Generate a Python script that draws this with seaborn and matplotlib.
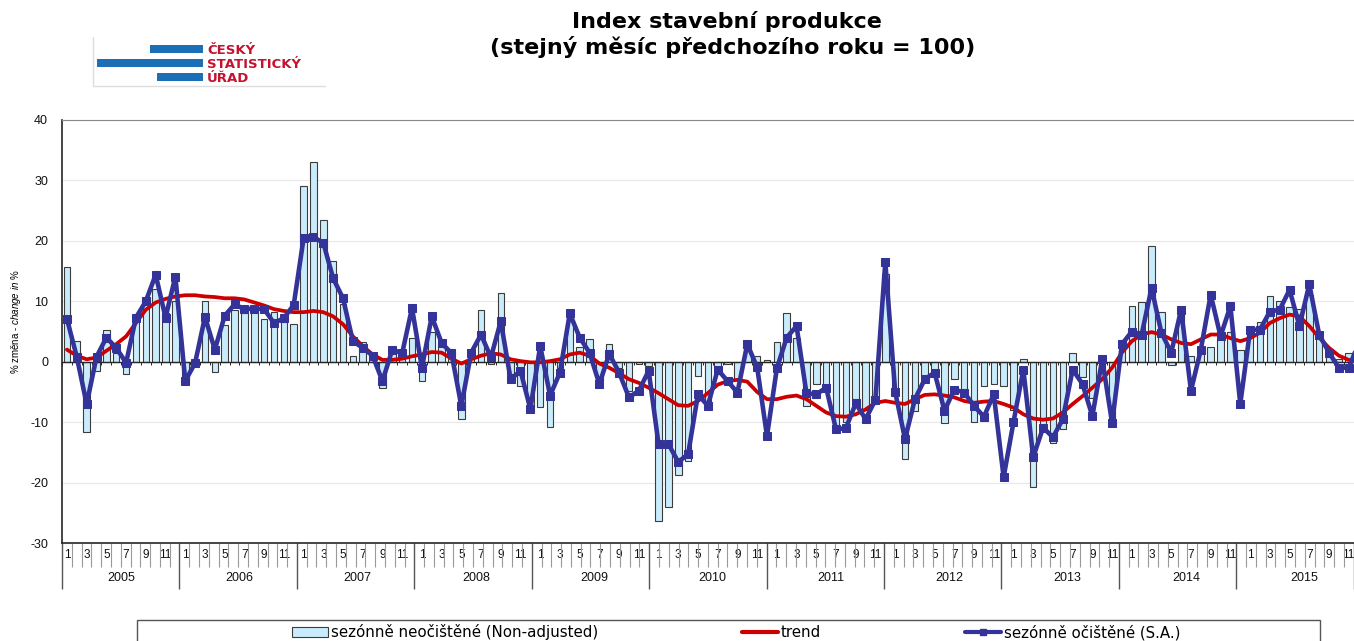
import matplotlib
matplotlib.use("Agg")
from matplotlib import pyplot as plt
from matplotlib.patches import Rectangle, Patch
from matplotlib.lines import Line2D
import pandas as pd
import seaborn as sns
import numpy as np

# data (% change, same month of previous year = 100), Jan 2005 - Dec 2015
years = list(range(2005, 2016))
month_labels = ["1", "", "3", "", "5", "", "7", "", "9", "", "11", ""]

non_adjusted = [
    15.6, 3.5, -11.7, -1.5, 5.3, 1.4, -2.1, 7.5, 10.2, 12.0, 8.0, 10.0,      # 2005
    -3.5, -0.4, 10.0, -1.7, 6.0, 8.5, 8.0, 8.3, 7.0, 8.2, 6.5, 6.3,          # 2006
    29.0, 33.1, 23.4, 16.7, 9.5, 0.9, 3.2, 0.9, -4.3, 2.0, 1.5, 4.0,         # 2007
    -3.2, 5.0, 3.1, 1.7, -9.4, 1.5, 8.6, -0.4, 11.4, -2.0, -4.0, -7.5,       # 2008
    -7.5, -10.8, -1.0, 7.0, 2.4, 3.7, -3.0, 2.9, -1.0, -4.8, -0.4, -0.7,     # 2009
    -26.4, -24.1, -18.8, -16.4, -2.4, -7.3, -1.0, -0.4, -3.0, 2.5, 0.9, 0.3,  # 2010
    3.3, 8.0, 4.0, -7.3, -3.7, -4.5, -11.7, -10.0, -6.2, -8.0, -6.0, 14.5,   # 2011
    -5.5, -16.1, -8.1, -2.5, -1.5, -10.1, -2.9, -4.5, -9.9, -4.0, -3.7, -4.0,  # 2012
    -8.0, 0.5, -20.8, -11.0, -13.4, -11.2, 1.5, -2.5, -6.0, -1.0, -10.2, 3.6,  # 2013
    9.3, 9.8, 19.1, 8.3, -0.5, 9.1, 1.0, 2.0, 2.5, 4.0, 5.0, 2.0,            # 2014
    5.0, 6.5, 10.9, 10.0, 9.0, 8.7, 11.0, 5.0, 2.0, 0.5, 1.4, 3.0,           # 2015
]

seasonally_adjusted = [
    7.1, 0.8, -7.0, 0.8, 4.0, 2.3, -0.2, 7.3, 10.0, 14.4, 7.3, 14.1,
    -3.2, -0.2, 7.4, 2.0, 7.6, 9.5, 8.7, 8.8, 8.7, 6.4, 7.2, 9.4,
    20.4, 20.6, 19.7, 13.8, 10.5, 3.4, 2.3, 1.0, -3.2, 2.0, 1.4, 8.9,
    -1.0, 7.5, 3.1, 1.4, -7.3, 1.5, 4.5, 0.7, 6.7, -2.9, -1.5, -7.8,
    2.6, -5.6, -1.8, 8.0, 4.0, 1.5, -3.7, 1.3, -1.8, -5.9, -4.8, -1.5,
    -13.6, -13.6, -16.6, -15.3, -5.4, -7.3, -1.3, -3.2, -5.1, 2.9, -0.9, -12.3,
    -1.1, 4.0, 5.9, -5.2, -5.4, -4.3, -11.2, -11.0, -6.9, -9.5, -6.3, 16.5,
    -5.0, -12.8, -6.2, -2.9, -1.8, -8.1, -4.6, -5.1, -7.3, -9.1, -5.4, -19.1,
    -10.0, -1.3, -15.8, -10.9, -12.5, -9.5, -1.3, -3.7, -9.0, 0.4, -10.1, 2.9,
    5.0, 4.5, 12.2, 4.8, 1.5, 8.6, -4.8, 2.0, 11.1, 4.2, 9.2, -7.0,
    5.3, 5.3, 8.3, 8.6, 11.9, 5.9, 12.8, 4.5, 1.5, -1.0, -1.0, 3.0,
]

trend = [
    2.0, 1.0, 0.4, 0.7, 1.8, 2.9, 4.2, 6.4, 8.6, 9.8, 10.4, 10.8,
    11.0, 11.0, 10.8, 10.7, 10.5, 10.5, 10.3, 9.8, 9.3, 8.7, 8.4, 8.2,
    8.2, 8.4, 8.2, 7.5, 6.2, 4.2, 2.6, 1.2, 0.3, 0.3, 0.5, 0.9,
    1.2, 1.6, 1.5, 0.5, -0.3, 0.4, 1.0, 1.4, 1.2, 0.4, 0.1, -0.1,
    -0.1, 0.1, 0.4, 1.2, 1.5, 1.0, -0.3, -1.0, -1.9, -2.9, -3.5, -4.3,
    -5.2, -6.2, -7.2, -7.3, -6.5, -5.2, -3.8, -3.2, -3.0, -3.3, -5.0, -6.2,
    -6.2, -5.8, -5.6, -6.2, -7.3, -8.4, -9.0, -9.1, -8.7, -7.9, -6.8, -6.5,
    -6.8, -7.0, -6.2, -5.5, -5.4, -5.6, -5.9, -6.5, -6.8, -6.6, -6.5, -7.0,
    -7.6, -8.7, -9.4, -9.6, -9.4, -8.4, -7.0, -5.7, -4.3, -2.9, -1.0, 1.5,
    3.4, 4.5, 4.9, 4.5, 3.7, 3.1, 2.9, 3.7, 4.5, 4.5, 3.9, 3.4,
    3.9, 4.8, 6.4, 7.2, 7.8, 7.5, 5.9, 4.0, 2.3, 1.0, 0.3, 0.0,
]

labels = ["sezónně neočištěné (Non-adjusted)", "trend",
          "sezónně očištěné (S.A.)"]

BAR_C = "#c9ecfc"
TREND_C = "#cc0000"
SA_C = "#333399"

df = pd.DataFrame({"idx": range(len(non_adjusted)),
                   "na": non_adjusted,
                   "sa": seasonally_adjusted,
                   "trend": trend})

sns.set_style("white")
plt.rcParams["font.family"] = ["Liberation Sans", "DejaVu Sans"]
plt.rcParams["text.color"] = "black"
plt.rcParams["axes.unicode_minus"] = False
plt.rcParams["mathtext.fontset"] = "custom"
plt.rcParams["mathtext.rm"] = "Liberation Sans"
plt.rcParams["mathtext.it"] = "Liberation Sans:italic"
WIDE = ["DejaVu Sans"]

W, H = 1354, 641
fig = plt.figure(figsize=(W / 100, H / 100), dpi=100)
n = len(non_adjusted)
ax = fig.add_axes([62 / W, 98 / H, n * 9.86 / W, 423 / H])

sns.barplot(data=df, x="idx", y="na", color=BAR_C, saturation=1, width=0.66,
            edgecolor="#3c3c3c", linewidth=0.8, ax=ax, zorder=2)
sns.lineplot(data=df, x="idx", y="trend", color=TREND_C, linewidth=2.7,
             ax=ax, zorder=3)
sns.lineplot(data=df, x="idx", y="sa", color=SA_C, linewidth=3.3, marker="s",
             markersize=5.5, markeredgecolor=SA_C, ax=ax, zorder=4)

ax.set_xlim(-0.5, n - 0.5)
ax.set_ylim(-30, 40)
ax.set_yticks(range(-30, 41, 10))
ax.set_xlabel("")
ax.set_ylabel("")
ax.yaxis.grid(True, color="#e8e8e8", linewidth=0.8)
ax.set_axisbelow(True)
ax.tick_params(axis="y", length=4, width=0.8, direction="out", color="black",
               labelsize=9, labelcolor="#111111", pad=6)

# horizontal axis crossing at zero with small month ticks
ax.spines["bottom"].set_position(("data", 0))
ax.spines["bottom"].set_linewidth(1)
ax.set_xticks([])
ax.set_xticks(np.arange(-0.5, n, 1), minor=True)
ax.tick_params(axis="x", which="minor", length=2.5, width=0.6,
               direction="out", color="black", labelbottom=False)
ax.spines["top"].set_color("#8a8a8a")
ax.spines["right"].set_visible(False)
ax.spines["left"].set_linewidth(1.2)

# category axis at the bottom (months / years)
ax2 = ax.twiny()
ax2.set_xlim(-0.5, n - 0.5)
ax2.xaxis.set_ticks_position("bottom")
ax2.set_xticks(np.arange(-0.5, n + 1, 12))
ax2.set_xticks(np.arange(-0.5, n + 1, 1), minor=True)
ax2.tick_params(which="major", length=33, width=1, color="#555555",
                labelbottom=False, labeltop=False)
ax2.tick_params(which="minor", length=17, width=0.8, color="#9a9a9a")
for s in ["top", "left", "right"]:
    ax2.spines[s].set_visible(False)
ax2.spines["bottom"].set_linewidth(1.2)

trans = ax.get_xaxis_transform()
for k, yr in enumerate(years):
    for m, lab in enumerate(month_labels):
        if lab:
            ax.text(k * 12 + m, -0.029, lab, transform=trans, ha="center",
                    va="center", fontsize=8.5, color="#111111")
    ax.text(k * 12 + 5.5, -0.083, str(yr), transform=trans, ha="center",
            va="center", fontsize=9, color="#111111")

fig.text(16 / W, 1 - 322 / H, r"% změna - $\mathit{change\ in\ \%}$",
         rotation=90, ha="center", va="center", fontsize=7)

# title
fig.text(727 / W, 1 - 22 / H, "Index stavební produkce", ha="center",
         va="center", fontsize=16, fontweight="bold", family=WIDE)
fig.text(733 / W, 1 - 47 / H, "(stejný měsíc předchozího roku = 100)",
         ha="center", va="center", fontsize=16, fontweight="bold", family=WIDE)

# logo
LOGO_BLUE = "#1b6fb7"
LOGO_RED = "#c4122f"
fig.add_artist(Line2D([93 / W, 93 / W], [1 - 37 / H, 1 - 86 / H],
                      color="#dddddd", linewidth=1))
fig.add_artist(Line2D([93 / W, 325 / W], [1 - 86 / H, 1 - 86 / H],
                      color="#dddddd", linewidth=1))
for x0, y0 in [(150, 45), (97, 59), (157, 73)]:
    fig.add_artist(Rectangle((x0 / W, 1 - (y0 + 8) / H), (203 - x0) / W,
                             8 / H, color=LOGO_BLUE, linewidth=0))
for txt, yy in [("ČESKÝ", 50), ("STATISTICKÝ", 64), ("ÚŘAD", 78)]:
    fig.text(207 / W, 1 - yy / H, txt, ha="left", va="center", fontsize=9.5,
             fontweight="bold", color=LOGO_RED, family=WIDE)

# legend
handles = [Patch(facecolor=BAR_C, edgecolor="#3c3c3c", linewidth=0.8),
           Line2D([], [], color=TREND_C, linewidth=3),
           Line2D([], [], color=SA_C, linewidth=3, marker="s", markersize=5)]
fig.legend(handles, labels, loc="center", bbox_to_anchor=(736 / W, 1 - 632 / H),
           ncol=3, frameon=False, handlelength=2.4, handletextpad=0.2,
           columnspacing=9.6, prop={"family": WIDE, "size": 10.8})
fig.add_artist(Rectangle((137 / W, -0.05), (1320 - 137) / W,
                         0.05 + (641 - 620) / H, fill=False,
                         edgecolor="#555555", linewidth=1,
                         transform=fig.transFigure))

fig.savefig("out.png", dpi=100)
